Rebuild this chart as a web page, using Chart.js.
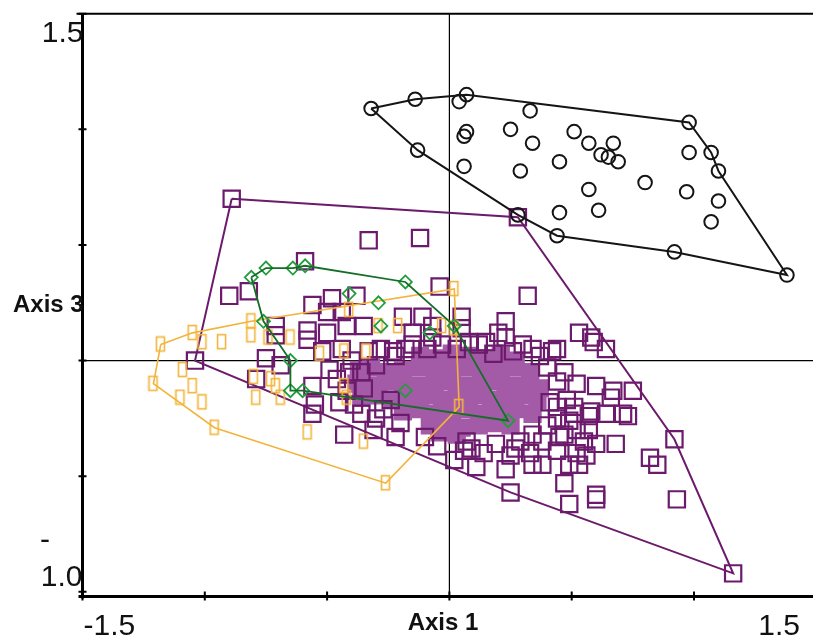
<!DOCTYPE html>
<html>
<head>
<meta charset="utf-8">
<script src="https://cdn.jsdelivr.net/npm/chart.js@4/dist/chart.umd.min.js"></script>
<style>
  html, body { margin: 0; padding: 0; background: #fff; overflow: hidden; }
  #wrap { width: 830px; height: 642px; }
</style>
</head>
<body>
<div id="wrap"><canvas id="ord" width="830" height="642"></canvas></div>
<script>
// axis ticks and their text
const xTickValues = [-1.5, -1, -0.5, 0, 0.5, 1, 1.5];
const yTickValues = [1.5, 1, 0.5, 0, -0.5, -1];
const xEndLabels = ['-1.5', '1.5'];
const yEndLabels = ['1.5', '-', '1.0'];
const axisTitles = ['Axis 1', 'Axis 3'];

// group 1 (circles)
const circlePts = [
  [-0.32,1.09],[-0.14,1.13],[0.04,1.12],[0.07,1.15],[0.98,1.03],[1.07,0.90],[1.10,0.82],[1.38,0.37],
  [0.92,0.47],[0.44,0.54],[0.28,0.63],[-0.13,0.91],
  [0.33,1.08],[0.25,1.00],[0.07,0.99],[0.06,0.97],[0.34,0.94],[0.51,0.99],[0.57,0.94],[0.67,0.94],
  [0.62,0.89],[0.65,0.88],[0.69,0.86],[0.45,0.86],[0.06,0.84],[0.29,0.82],[0.98,0.90],[0.80,0.77],
  [0.57,0.74],[0.97,0.73],[1.10,0.69],[0.45,0.64],[0.61,0.65],[1.07,0.60]
];
const circleHull = [
  [-0.32,1.09],[-0.14,1.13],[0.07,1.15],[0.98,1.03],[1.07,0.90],[1.10,0.82],[1.38,0.37],
  [0.92,0.47],[0.44,0.54],[0.28,0.63],[-0.13,0.91]
];

// group 2 (squares, purple)
const squarePts = [
  [-0.89,0.70],[0.28,0.62],[-0.33,0.52],[-0.12,0.53],[-0.59,0.43],[-0.90,0.28],[-0.82,0.30],[-0.56,0.24],
  [-0.48,0.27],[-0.38,0.28],[-0.50,0.21],[-0.04,0.32],[-0.71,0.15],[-0.71,0.11],[-0.58,0.13],[-0.58,0.09],
  [-0.50,0.12],[-0.42,0.15],[-0.35,0.15],[-0.19,0.19],[-0.11,0.19],[-0.15,0.12],[-0.07,0.15],[-0.75,0.01],
  [-1.04,0.00],[-0.69,-0.02],[-0.52,0.04],[-0.44,0.05],[-0.33,0.04],[-0.28,0.05],[-0.23,0.04],[-0.18,0.05],
  [-0.49,-0.04],[-0.41,-0.05],[-0.36,-0.05],[-0.79,-0.08],[-0.56,-0.11],[-0.42,-0.13],[-0.35,-0.12],[-0.55,-0.19],
  [-0.39,-0.19],[-0.36,-0.23],[-0.30,-0.25],[-0.31,-0.30],[-0.43,-0.32],[-0.22,-0.33],[0.02,-0.43],[-0.56,-0.23],
  [-0.24,-0.17],[-0.44,0.21],[0.05,0.19],[0.23,0.17],[0.23,0.10],[0.12,0.07],[0.34,0.05],[0.44,0.05],
  [0.53,0.12],[0.59,0.08],[0.64,0.05],[0.52,-0.10],[0.60,-0.11],[0.67,-0.13],[0.75,-0.13],[0.71,-0.23],
  [0.64,-0.23],[0.57,-0.24],[0.49,-0.26],[0.44,-0.25],[0.47,-0.32],[0.55,-0.35],[0.68,-0.36],[0.38,-0.35],
  [0.33,-0.40],[0.25,-0.41],[0.14,-0.40],[0.06,-0.39],[0.34,-0.45],[0.38,-0.45],[0.49,-0.45],[0.82,-0.42],
  [0.85,-0.45],[0.47,-0.53],[0.60,-0.58],[0.25,-0.57],[0.58,0.10],[0.44,-0.09],[0.66,-0.16],[0.73,-0.24],
  [0.51,-0.23],[0.57,-0.30],[0.60,-0.36],[0.44,-0.39],[0.56,-0.41],[0.53,-0.45],[0.92,-0.34],[0.60,-0.60],
  [0.49,-0.62],[0.93,-0.60],[1.16,-0.92],[0.42,0.04],[0.58,-0.22],[0.51,-0.20],[0.52,-0.30],[0.45,-0.33],
  [0.34,-0.32],[0.27,-0.38],[0.07,-0.35],[0.52,-0.40],[0.32,0.28],[0.05,0.14],[0.15,0.08],[0.30,0.07],
  [-0.07,0.10],[-0.15,0.07],[-0.03,0.07],[0.03,0.05],[0.18,0.03],
  [0.09,-0.38],[0.19,-0.36],[0.29,-0.35],[-0.10,-0.33],[0.40,-0.28],[0.41,-0.18],[0.40,-0.03],[0.37,0.02],
  [0.08,0.08],[-0.09,0.05],[-0.22,0.02],[-0.30,-0.02],[-0.40,0.00],[-0.46,-0.08],[-0.45,-0.18],[-0.27,-0.21],
  [-0.20,-0.27],[0.20,0.12],[0.26,0.04],[0.11,-0.46],[0.23,-0.47],[0.47,-0.05],[0.48,-0.17],[0.44,-0.20],
  [-0.05,-0.37]
];
// dense centre of group 2, where the squares overlap into a solid patch
const squareCorePts = [
  [-0.12,0.02],[-0.06,0.01],[0.01,0.03],[0.08,0.02],[0.14,0.01],[0.21,0.02],[0.27,0.00],
  [-0.37,-0.04],[-0.32,-0.03],[-0.25,-0.05],[-0.19,-0.04],[-0.12,-0.03],[-0.06,-0.05],[0.01,-0.04],
  [0.08,-0.03],[0.14,-0.05],[0.21,-0.04],[0.27,-0.03],[0.33,-0.05],
  [-0.38,-0.10],[-0.33,-0.11],[-0.26,-0.09],[-0.19,-0.10],[-0.13,-0.11],[-0.06,-0.10],[0.00,-0.09],
  [0.07,-0.11],[0.13,-0.10],[0.20,-0.09],[0.26,-0.11],[0.33,-0.10],[0.37,-0.12],
  [-0.36,-0.16],[-0.29,-0.15],[-0.23,-0.17],[-0.16,-0.16],[-0.10,-0.15],[-0.03,-0.17],[0.03,-0.16],
  [0.10,-0.15],[0.17,-0.17],[0.23,-0.16],[0.30,-0.15],[0.36,-0.17],
  [-0.19,-0.22],[-0.12,-0.21],[-0.06,-0.23],[0.01,-0.22],[0.08,-0.21],[0.14,-0.23],[0.21,-0.22],
  [0.27,-0.21],[0.34,-0.23],
  [-0.08,-0.28],[-0.01,-0.27],[0.05,-0.29],[0.12,-0.28],[0.18,-0.27],[0.25,-0.28],
  [-0.04,-0.31],[0.03,-0.32]
];
const squareHull = [[-0.89,0.70],[0.28,0.62],[0.92,-0.34],[1.16,-0.92],[0.25,-0.57],[-1.04,0.00]];

// group 3 (diamonds)
const diamondPts = [
  [-0.81,0.36],[-0.75,0.40],[-0.64,0.40],[-0.59,0.41],[-0.18,0.34],[0.02,0.15],[0.24,-0.26],[-0.60,-0.13],
  [-0.65,-0.13],[-0.76,0.17],[-0.65,0.00],[-0.41,0.29],[-0.29,0.25],[-0.08,0.12],[-0.28,0.15],[-0.18,-0.13]
];
const diamondHull = [
  [-0.81,0.36],[-0.75,0.40],[-0.64,0.40],[-0.59,0.41],[-0.18,0.34],[0.02,0.15],[0.24,-0.26],
  [-0.60,-0.13],[-0.65,-0.13],[-0.65,0.00],[-0.76,0.17]
];

// group 4 (small squares, orange)
const smallSquarePts = [
  [-1.18,0.07],[-1.21,-0.10],[-1.09,-0.04],[-1.05,0.12],[-1.01,0.08],[-0.93,0.08],[-0.81,0.17],[-0.81,0.11],
  [-1.05,-0.11],[-1.10,-0.16],[-1.01,-0.18],[-0.96,-0.29],[-0.74,0.10],[-0.65,0.10],[-0.80,-0.07],[-0.71,-0.11],
  [-0.79,-0.16],[-0.69,-0.16],[-0.73,-0.08],[-0.58,-0.31],[-0.41,0.22],[-0.53,0.03],[-0.43,0.04],[-0.34,0.04],
  [-0.43,-0.11],[-0.42,-0.16],[-0.29,0.15],[-0.21,0.15],[-0.35,-0.35],[-0.26,-0.53],[0.02,0.31],[0.04,-0.20],
  [-0.03,0.15],[0.02,0.14]
];
const smallSquareHull = [
  [-1.18,0.07],[-1.05,0.12],[-0.81,0.17],[0.02,0.31],[0.04,-0.20],[-0.26,-0.53],[-0.96,-0.29],[-1.21,-0.10]
];

function pts(list) {
  return list.map(p => ({x: p[0], y: p[1]}));
}
function ring(list) {
  const r = pts(list);
  r.push({x: list[0][0], y: list[0][1]});
  return r;
}

// small upright rectangle used as the orange marker
function barIcon(w, h, color, lw) {
  const c = document.createElement('canvas');
  c.width = w + 2 * lw + 1;
  c.height = h + 2 * lw + 1;
  const g = c.getContext('2d');
  g.strokeStyle = color;
  g.lineWidth = lw;
  g.strokeRect(lw, lw, w, h);
  return c;
}

const BLACK = '#151515';
const PURPLE = '#6c1a6c';
const CORE = '#a45ba7';
const ORANGE = '#f2b43a';
const GREEN = '#229c3c';
const GREEN_LINE = '#146e28';

const frame = {
  id: 'frame',
  beforeDatasetsDraw(chart) {
    const {ctx, chartArea: a, scales: {x, y}} = chart;
    const x0 = x.getPixelForValue(0);
    const y0 = y.getPixelForValue(0);
    ctx.save();
    ctx.strokeStyle = '#000';
    ctx.lineWidth = 1.2;
    ctx.beginPath();
    ctx.moveTo(x0, a.top); ctx.lineTo(x0, a.bottom);
    ctx.moveTo(a.left, y0); ctx.lineTo(a.right, y0);
    ctx.stroke();
    ctx.restore();
  },
  afterDraw(chart) {
    const {ctx, chartArea: a, scales: {x, y}} = chart;
    ctx.save();
    ctx.strokeStyle = '#000';
    // top line
    ctx.lineWidth = 2;
    ctx.beginPath();
    ctx.moveTo(a.left - 6, a.top); ctx.lineTo(a.right + 20, a.top);
    ctx.stroke();
    // left and bottom axes
    ctx.lineWidth = 3;
    ctx.beginPath();
    ctx.moveTo(a.left, a.top); ctx.lineTo(a.left, a.bottom + 2);
    ctx.moveTo(a.left - 4, a.bottom); ctx.lineTo(a.right + 20, a.bottom);
    ctx.stroke();
    // tick marks
    ctx.lineWidth = 2;
    ctx.beginPath();
    xTickValues.forEach(v => {
      const px = x.getPixelForValue(v);
      ctx.moveTo(px, a.bottom - 5); ctx.lineTo(px, a.bottom + 4);
    });
    yTickValues.forEach(v => {
      const py = y.getPixelForValue(v);
      ctx.moveTo(a.left - 4, py); ctx.lineTo(a.left + 4, py);
    });
    ctx.stroke();

    // labels
    ctx.fillStyle = '#111';
    ctx.textBaseline = 'alphabetic';
    ctx.font = '30px "Liberation Sans", Arial, sans-serif';
    ctx.textAlign = 'left';
    ctx.fillText(xEndLabels[0], a.left + 1, 635);
    ctx.textAlign = 'right';
    ctx.fillText(xEndLabels[1], 800, 635);
    ctx.fillText(yEndLabels[0], a.left + 1, 42);
    ctx.textAlign = 'left';
    ctx.fillText(yEndLabels[1], 40, 549);
    ctx.textAlign = 'right';
    ctx.fillText(yEndLabels[2], a.left, 586);

    ctx.font = 'bold 24px "Liberation Sans", Arial, sans-serif';
    ctx.textAlign = 'center';
    ctx.fillText(axisTitles[0], 443, 630);
    ctx.textAlign = 'left';
    ctx.fillText(axisTitles[1], 13, 312);
    ctx.restore();
  }
};

const hullLine = (data, color, width, order) => ({
  data: ring(data),
  showLine: true,
  borderColor: color,
  borderWidth: width,
  pointRadius: 0,
  fill: false,
  tension: 0,
  order: order
});

new Chart(document.getElementById('ord'), {
  type: 'scatter',
  data: {
    datasets: [
      hullLine(circleHull, BLACK, 2, 1),
      {
        data: pts(circlePts),
        pointStyle: 'circle',
        pointRadius: 6.8,
        borderWidth: 2,
        borderColor: BLACK,
        backgroundColor: 'rgba(0,0,0,0)',
        order: 1
      },
      hullLine(diamondHull, GREEN_LINE, 1.8, 2),
      {
        data: pts(diamondPts),
        pointStyle: 'rectRot',
        pointRadius: 6.5,
        borderWidth: 1.8,
        borderColor: GREEN,
        backgroundColor: 'rgba(0,0,0,0)',
        order: 2
      },
      hullLine(smallSquareHull, ORANGE, 1.6, 3),
      {
        data: pts(smallSquarePts),
        pointStyle: barIcon(8, 14, ORANGE, 1.6),
        pointRadius: 7,
        order: 3
      },
      hullLine(squareHull, PURPLE, 2, 4),
      {
        data: pts(squarePts),
        pointStyle: 'rect',
        pointRadius: 11.5,
        borderWidth: 2.2,
        borderColor: PURPLE,
        backgroundColor: 'rgba(0,0,0,0)',
        order: 4
      },
      {
        data: pts(squareCorePts),
        pointStyle: 'rect',
        pointRadius: 11.5,
        borderWidth: 2,
        borderColor: CORE,
        backgroundColor: CORE,
        order: 5
      }
    ]
  },
  options: {
    responsive: false,
    animation: false,
    devicePixelRatio: 1,
    layout: { padding: { left: 82.5, right: 12.5, top: 9, bottom: 45.5 } },
    plugins: { legend: { display: false }, tooltip: { enabled: false } },
    scales: {
      x: { type: 'linear', min: -1.5, max: 1.5, display: false },
      y: { type: 'linear', min: -1.02, max: 1.5, display: false }
    }
  },
  plugins: [frame]
});
</script>
</body>
</html>
